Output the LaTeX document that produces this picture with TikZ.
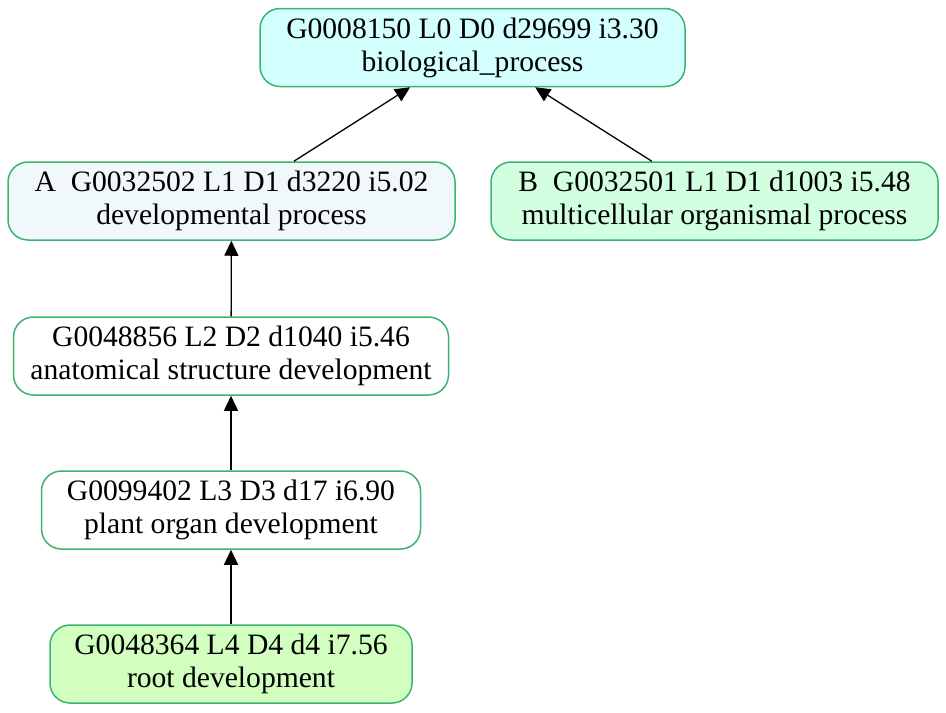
\documentclass[tikz,border=0pt]{standalone}
\usepackage{fontspec}
\setmainfont{Liberation Serif}
\usetikzlibrary{arrows.meta}
\definecolor{termline}{HTML}{3CB371}
\definecolor{rootfill}{HTML}{D4FFFF}
\definecolor{afill}{HTML}{F0F8FC}
\definecolor{bfill}{HTML}{D2FFE0}
\definecolor{leaffill}{HTML}{D2FFC0}
\begin{document}
\begin{tikzpicture}[x=0.5pt,y=-0.5pt,
    term/.style={draw=termline, line width=0.75pt, rounded corners=10pt, align=center,
        inner sep=0pt, minimum height=39pt, font=\fontsize{14.8}{16.5}\selectfont},
    isa/.style={-{Triangle[length=7.5pt,width=7pt]}, line width=0.65pt}]
    \useasboundingbox (0,0) rectangle (946,712);

    \node[term, fill=rootfill, minimum width=212.5pt] (bp) at (472.5,47.5)
        {G0008150 L0 D0 d29699 i3.30\\biological\_process};
    \node[term, fill=afill, minimum width=223.5pt] (dev) at (231.5,201)
        {A\ \ G0032502 L1 D1 d3220 i5.02\\developmental process};
    \node[term, fill=bfill, minimum width=223.5pt] (mop) at (714.5,201)
        {B\ \ G0032501 L1 D1 d1003 i5.48\\multicellular organismal process};
    \node[term, fill=white, minimum width=217.5pt] (asd) at (231,356)
        {G0048856 L2 D2 d1040 i5.46\\anatomical structure development};
    \node[term, fill=white, minimum width=189.5pt] (pod) at (231,510)
        {G0099402 L3 D3 d17 i6.90\\plant organ development};
    \node[term, fill=leaffill, minimum width=181pt] (rd) at (231,664)
        {G0048364 L4 D4 d4 i7.56\\root development};

    \draw[isa] (dev) -- (bp);
    \draw[isa] (mop) -- (bp);
    \draw[isa] (asd) -- (dev);
    \draw[isa] (pod) -- (asd);
    \draw[isa] (rd) -- (pod);
\end{tikzpicture}
\end{document}
